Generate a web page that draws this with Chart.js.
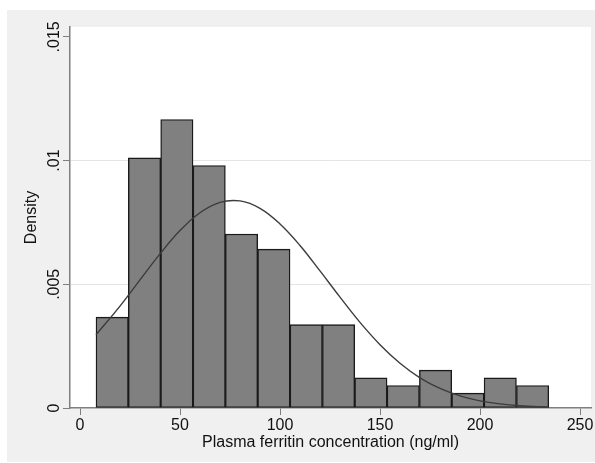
<!DOCTYPE html>
<html>
<head>
<meta charset="utf-8">
<script src="https://cdn.jsdelivr.net/npm/chart.js@4.4.1/dist/chart.umd.min.js"></script>
<style>
  html, body { margin: 0; padding: 0; background: #fff; }
  canvas { display: block; }
</style>
</head>
<body>
<canvas id="hist" width="595" height="463"></canvas>
<script>
// histogram bins (ng/ml) and their densities
const binEdges = [8, 24.17, 40.34, 56.51, 72.68, 88.85, 105.02, 121.19, 137.36, 153.53, 169.7, 185.87, 202.04, 218.21, 234.38];
const densities = [0.00367, 0.01011, 0.01166, 0.0098, 0.00703, 0.00642, 0.00337, 0.00337, 0.00122, 0.00091, 0.00153, 0.0006, 0.00122, 0.00091];

// normal density overlay
const curveX = [8, 20, 30, 40, 50, 60, 70, 80, 90, 100, 110, 120, 130, 140, 150, 160, 170, 180, 190, 200, 210, 220, 234.38];
const curveY = [0.00296, 0.00412, 0.00518, 0.00623, 0.00717, 0.00789, 0.00831, 0.00837, 0.00807, 0.00744, 0.00657, 0.00554, 0.00448, 0.00346, 0.00256, 0.00181, 0.00122, 0.00079, 0.00049, 0.00029, 0.000165, 0.000089, 0.000035];

const xTicks = [0, 50, 100, 150, 200, 250];
const yTicks = [0, 0.005, 0.01, 0.015];
const yGridAt = [0.005, 0.01];

const barData = densities.map((d, i) => ({ x: (binEdges[i] + binEdges[i + 1]) / 2, y: d }));
const lineData = curveX.map((x, i) => ({ x: x, y: curveY[i] }));

const FONT = "'Liberation Sans', Arial, Helvetica, sans-serif";
const AXIS_GRAY = '#7f7f7f';

// white page, grey outer box, white plot region
const backdrop = {
  id: 'backdrop',
  beforeDraw(chart) {
    const c = chart.ctx, a = chart.chartArea;
    c.save();
    c.fillStyle = '#fff';
    c.fillRect(0, 0, chart.width, chart.height);
    c.fillStyle = '#f0f0f0';
    c.fillRect(7, 10, chart.width - 7, chart.height - 11);
    c.fillStyle = '#fff';
    c.fillRect(a.left, a.top, a.right - a.left, a.bottom - a.top);
    c.restore();
  }
};

new Chart(document.getElementById('hist'), {
  type: 'bar',
  data: {
    datasets: [
      {
        type: 'line',
        data: lineData,
        borderColor: '#3c3c3c',
        borderWidth: 1.4,
        pointRadius: 0,
        tension: 0.4,
        fill: false,
        order: 0
      },
      {
        type: 'bar',
        data: barData,
        backgroundColor: '#808080',
        borderColor: '#1a1a1a',
        borderWidth: 1.4,
        borderSkipped: false,
        barPercentage: 1,
        categoryPercentage: 1,
        grouped: false,
        order: 1
      }
    ]
  },
  options: {
    responsive: false,
    animation: false,
    devicePixelRatio: 1,
    layout: { padding: { left: 7, top: 27, right: 4, bottom: 0 } },
    plugins: { legend: { display: false }, tooltip: { enabled: false } },
    scales: {
      x: {
        type: 'linear',
        min: -5,
        max: 255.5,
        offset: false,
        afterBuildTicks: s => { s.ticks = xTicks.map(v => ({ value: v })); },
        afterFit: s => { s.height = 55; },
        ticks: {
          font: { family: FONT, size: 16 },
          color: '#111',
          padding: 1,
          maxRotation: 0,
          callback: v => String(v)
        },
        grid: { offset: false, drawOnChartArea: false, tickLength: 7, tickColor: AXIS_GRAY, tickWidth: 1 },
        border: { color: AXIS_GRAY, width: 1.5 },
        title: {
          display: true,
          text: 'Plasma ferritin concentration (ng/ml)',
          font: { family: FONT, size: 16 },
          color: '#111',
          padding: { top: 0, bottom: 11 }
        }
      },
      y: {
        type: 'linear',
        min: 0,
        max: 0.0154,
        afterBuildTicks: s => { s.ticks = yTicks.map(v => ({ value: v })); },
        afterFit: s => { s.width = 63; },
        ticks: {
          font: { family: FONT, size: 16 },
          color: '#111',
          minRotation: 90,
          maxRotation: 90,
          crossAlign: 'center',
          padding: -6.8,
          callback: v => v === 0 ? '0' : String(v).replace(/^0/, '')
        },
        grid: {
          color: ctx => (ctx.tick && yGridAt.includes(ctx.tick.value)) ? '#e4e4e4' : 'rgba(0,0,0,0)',
          lineWidth: 1,
          tickLength: 7,
          tickColor: AXIS_GRAY,
          tickWidth: 1
        },
        border: { color: AXIS_GRAY, width: 1.5 },
        title: {
          display: true,
          text: 'Density',
          font: { family: FONT, size: 16 },
          color: '#111',
          padding: { top: 15, bottom: 0 }
        }
      }
    }
  },
  plugins: [backdrop]
});
</script>
</body>
</html>
